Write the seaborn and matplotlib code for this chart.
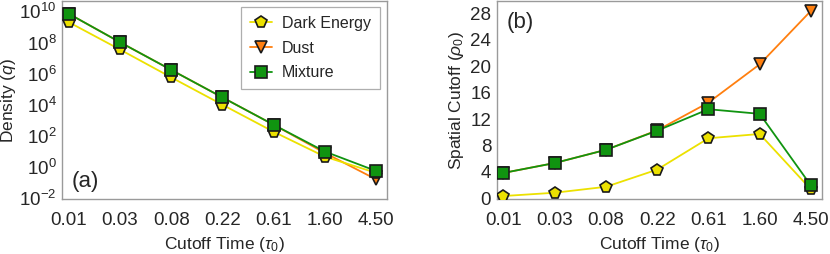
import matplotlib
matplotlib.use("Agg")
import matplotlib.pyplot as plt
import seaborn as sns
import numpy as np
import pandas as pd

# Data
tau_labels = ["0.01", "0.03", "0.08", "0.22", "0.61", "1.60", "4.50"]
series = ["Dark Energy", "Dust", "Mixture"]

# log10 of density
dens_dark = [9.31, 7.55, 5.76, 4.00, 2.26, 0.66, -0.38]
dens_dust = [9.85, 8.02, 6.24, 4.47, 2.71, 0.90, -0.80]
dens_mix = [9.85, 8.02, 6.24, 4.47, 2.71, 0.99, -0.26]

# spatial cutoff
rho_dark = [0.35, 0.85, 1.75, 4.35, 9.1, 9.75, 1.35]
rho_dust = [3.85, 5.35, 7.35, 10.3, 14.5, 20.3, 28.4]
rho_mix = [3.85, 5.35, 7.35, 10.25, 13.5, 12.8, 1.95]

COLORS = {"Dark Energy": "#ece100", "Dust": "#ff7f0f", "Mixture": "#109410"}
MARKERS = {"Dark Energy": "p", "Dust": "v", "Mixture": "s"}
SIZES = {"Dark Energy": 8.5, "Dust": 8.5, "Mixture": 8}
ZORDER = {"Dark Energy": 3, "Dust": 2, "Mixture": 4}

sns.set_theme(style="white")
plt.rcParams['font.family'] = ['Liberation Sans', 'DejaVu Sans']
plt.rcParams['mathtext.fontset'] = 'custom'
plt.rcParams['mathtext.rm'] = 'Liberation Sans'
plt.rcParams['mathtext.it'] = 'Liberation Sans:italic'

TICK_FS = 13.5
LABEL_FS = 12.5
GRAY = "#9a9a9a"


def make_df(dark, dust, mix):
    rows = []
    for name, vals in zip(series, [dark, dust, mix]):
        for i, v in enumerate(vals):
            rows.append({"x": i, "y": v, "series": name})
    return pd.DataFrame(rows)


def style_axes(ax):
    for s in ax.spines.values():
        s.set_color(GRAY)
        s.set_linewidth(1.0)
    ax.tick_params(direction="in", color=GRAY, length=4, width=0.8,
                   labelsize=TICK_FS)
    ax.tick_params(axis="x", pad=9)
    ax.tick_params(axis="y", pad=4)
    ax.set_xticks(range(len(tau_labels)))
    ax.set_xticklabels(tau_labels)
    ax.set_xlim(-0.13, 6.21)
    ax.set_xlabel(r"Cutoff Time ($\tau_0$)", fontsize=LABEL_FS, labelpad=5)


def draw(ax, df, log=False):
    for name in series:
        d = df[df.series == name].copy()
        if log:
            d["y"] = 10.0 ** d["y"]
        sns.lineplot(data=d, x="x", y="y", ax=ax, color=COLORS[name],
                     linewidth=1.3, marker=MARKERS[name],
                     markersize=SIZES[name], markerfacecolor=COLORS[name],
                     markeredgecolor="#1a1a1a", markeredgewidth=1.2,
                     label=name, zorder=ZORDER[name])


fig, (ax1, ax2) = plt.subplots(1, 2, figsize=(8.3, 2.54), dpi=100)
fig.subplots_adjust(left=0.0747, right=0.990, top=0.995, bottom=0.2165, wspace=0.338)

# (a) density
draw(ax1, make_df(dens_dark, dens_dust, dens_mix), log=True)
ax1.set_yscale("log")
ax1.set_ylim(10 ** -2.06, 10 ** 10.65)
ax1.set_yticks([10.0 ** k for k in range(-2, 11, 2)])
ax1.yaxis.set_minor_locator(matplotlib.ticker.NullLocator())
ax1.set_ylabel(r"Density ($q$)", fontsize=LABEL_FS, labelpad=1)
style_axes(ax1)
ax1.text(0.03, 0.06, "(a)", transform=ax1.transAxes, fontsize=16)
leg = ax1.legend(loc="upper right", fontsize=11.5, frameon=True, fancybox=False,
                 edgecolor=GRAY, handlelength=1.4, borderpad=0.55,
                 labelspacing=0.6, handletextpad=0.6, borderaxespad=0,
                 bbox_to_anchor=(0.978, 0.97))
leg.get_frame().set_linewidth(0.9)

# (b) spatial cutoff
draw(ax2, make_df(rho_dark, rho_dust, rho_mix))
ax2.set_ylim(-0.1, 29.85)
ax2.set_yticks(range(0, 29, 4))
ax2.set_ylabel(r"Spatial Cutoff ($\rho_0$)", fontsize=LABEL_FS, labelpad=3)
style_axes(ax2)
ax2.legend_.remove()
ax2.text(0.03, 0.865, "(b)", transform=ax2.transAxes, fontsize=16)

fig.savefig("out.png", dpi=100)
